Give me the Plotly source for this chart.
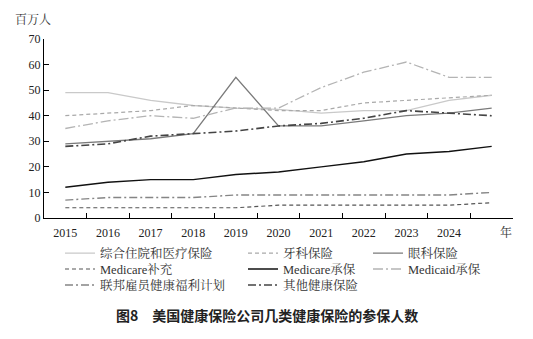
import plotly.graph_objects as go

years = ['2015', '2016', '2017', '2018', '2019', '2020', '2021', '2022', '2023', '2024', '2025']
year_labels = ['2015', '2016', '2017', '2018', '2019', '2020', '2021', '2022', '2023', '2024', '']

zonghe = [49, 49, 46, 44, 43, 42.5, 41, 42, 42, 46, 48]
yake = [40, 41, 42, 44, 43, 42, 42, 45, 46, 47, 48]
yanke = [29, 30, 31, 33, 55, 36, 36, 38, 40, 41, 43]
medicare_bc = [4, 4, 4, 4, 4, 5, 5, 5, 5, 5, 6]
medicare_cb = [12, 14, 15, 15, 17, 18, 20, 22, 25, 26, 28]
medicaid = [35, 38, 40, 39, 43, 43, 51, 57, 61, 55, 55]
lianbang = [7, 8, 8, 8, 9, 9, 9, 9, 9, 9, 10]
qita = [28, 29, 32, 33, 34, 36, 37, 39, 42, 41, 40]

names = ['综合住院和医疗保险', '牙科保险', '眼科保险', 'Medicare补充', 'Medicare承保',
         'Medicaid承保', '联邦雇员健康福利计划', '其他健康保险']
series = [zonghe, yake, yanke, medicare_bc, medicare_cb, medicaid, lianbang, qita]
colors = ['#c9c9c9', '#a9a9a9', '#7a7a7a', '#555555', '#111111', '#b4b4b4', '#858585', '#444444']
dashes = ['solid', '4px,3px', 'solid', '4px,3px', 'solid', '10px,3px,2px,3px',
          '8px,3px,2px,3px', '8px,3px,2px,3px']
widths = [1.3, 1.2, 1.3, 1.2, 1.4, 1.3, 1.4, 1.6]

# legend layout (column x in px, row y in px)
leg_x = [60, 243, 368, 60, 243, 368, 60, 243]
leg_y = [254, 254, 254, 270, 270, 270, 286, 286]

W, H = 533, 339
L, R, T, B = 44, 20, 39, 120.5
PW, PH = W - L - R, H - T - B
serif = 'Liberation Serif, Noto Serif CJK SC, Noto Sans CJK SC, serif'


def px_x(p):
    return (p - L) / PW


def px_y(p):
    return (H - B - p) / PH


fig = go.Figure()
layout_legends = {}
for i, (nm, ys, c, d, w) in enumerate(zip(names, series, colors, dashes, widths)):
    key = 'legend' if i == 0 else f'legend{i+1}'
    fig.add_trace(go.Scatter(x=years, y=ys, mode='lines', name=nm,
                             line=dict(color=c, dash=d, width=w), legend=key))
    layout_legends[key] = dict(
        xref='paper', yref='paper', x=px_x(leg_x[i]), y=px_y(leg_y[i]),
        xanchor='left', yanchor='middle', bgcolor='rgba(0,0,0,0)',
        font=dict(family=serif, size=12.5, color='#333333'),
        borderwidth=0,
    )

fig.update_layout(
    width=W, height=H,
    margin=dict(l=L, r=R, t=T, b=B, autoexpand=False),
    plot_bgcolor='white', paper_bgcolor='white',
    showlegend=True,
    **layout_legends,
)

fig.update_xaxes(
    type='category', categoryorder='array', categoryarray=years,
    tickmode='array', tickvals=years, ticktext=year_labels,
    tickson='boundaries', range=[-0.5, 10.5],
    showline=True, linecolor='black', linewidth=1.2,
    ticks='inside', ticklen=5, tickcolor='black', tickwidth=1.2,
    ticklabelstandoff=3,
    showgrid=False, zeroline=False,
    tickfont=dict(family=serif, size=12, color='#222222'),
)
fig.update_yaxes(
    range=[0, 70], dtick=10, tick0=0,
    showline=True, linecolor='black', linewidth=1.2,
    ticks='inside', ticklen=5, tickcolor='black', tickwidth=1.2,
    showgrid=False, zeroline=False,
    tickfont=dict(family=serif, size=12, color='#222222'),
)

fig.add_annotation(text='百万人', xref='paper', yref='paper', x=px_x(33), y=px_y(20),
                   xanchor='center', yanchor='middle', showarrow=False,
                   font=dict(family=serif, size=12, color='#333333'))
fig.add_annotation(text='年', xref='paper', yref='paper', x=px_x(506), y=px_y(233),
                   xanchor='center', yanchor='middle', showarrow=False,
                   font=dict(family=serif, size=12, color='#333333'))
fig.add_annotation(text='<b>图8　美国健康保险公司几类健康保险的参保人数</b>',
                   xref='paper', yref='paper', x=px_x(266.5), y=px_y(316),
                   xanchor='center', yanchor='middle', showarrow=False,
                   font=dict(family='Noto Sans CJK SC, sans-serif', size=14, color='#222222'))

fig.write_html('out.html')
